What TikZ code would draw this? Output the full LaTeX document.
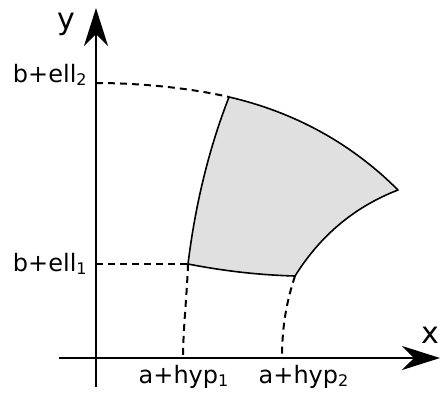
\documentclass[tikz,border=0pt]{standalone}
\usepackage{fontspec}
\setmainfont{DejaVu Sans}
\usepackage{tikz}
\usetikzlibrary{arrows.meta}
\tikzset{
  axis/.style={line width=1.3pt, -{Stealth[length=19pt, width=12pt, inset=6pt]}},
  guide/.style={line width=1pt, dash pattern=on 3.5pt off 2.5pt},
  patch/.style={draw=black, line width=0.8pt, fill=black!12, line join=round},
  lbl/.style={inner sep=0pt, font=\fontsize{12}{14}\selectfont},
  axlbl/.style={inner sep=0pt, font=\fontsize{15}{17}\selectfont},
}

\begin{document}
\begin{tikzpicture}[x=0.5pt, y=-0.5pt]
  \useasboundingbox (0,0) rectangle (442,392);
  % axes
  \coordinate (xl) at (59,358);
  \coordinate (xr) at (440,358);
  \coordinate (yb) at (96,387);
  \coordinate (yt) at (96,8);
  \draw[axis] (xl) -- (xr);
  \draw[axis] (yb) -- (yt);
  \node[axlbl, anchor=base] (ylab) at (66,29) {y};
  \node[axlbl, anchor=base east] (xlab) at (440,343) {x};

  % corners of the patch
  \coordinate (p1) at (188,264);
  \coordinate (p2) at (295,276);
  \coordinate (p3) at (398,190);
  \coordinate (p4) at (229,97);

  % feet of the guides
  \coordinate (e1) at (96,264);
  \coordinate (e2) at (96,83);
  \coordinate (h1) at (183,358);
  \coordinate (h2) at (282,358);

  \draw[patch] (p1) .. controls (224,271) and (259,275) .. (p2)
    .. controls (320,236) and (354,207) .. (p3)
    .. controls (351,143) and (294,112) .. (p4)
    .. controls (208,151) and (195,207) .. cycle;

  \draw[guide] (e1) -- (p1);
  \draw[guide] (e2) .. controls (140,83) and (190,88) .. (p4);
  \draw[guide] (p1) .. controls (187,295) and (183,330) .. (h1);
  \draw[guide] (p2) .. controls (287,300) and (282,325) .. (h2);

  \node[lbl, anchor=base east] (ell2) at (88,82) {b+ell\textsubscript{2}};
  \node[lbl, anchor=base east] (ell1) at (88,271) {b+ell\textsubscript{1}};
  \node[lbl, anchor=base] (hyp1) at (184,383) {a+hyp\textsubscript{1}};
  \node[lbl, anchor=base] (hyp2) at (304,383) {a+hyp\textsubscript{2}};
\end{tikzpicture}
\end{document}
